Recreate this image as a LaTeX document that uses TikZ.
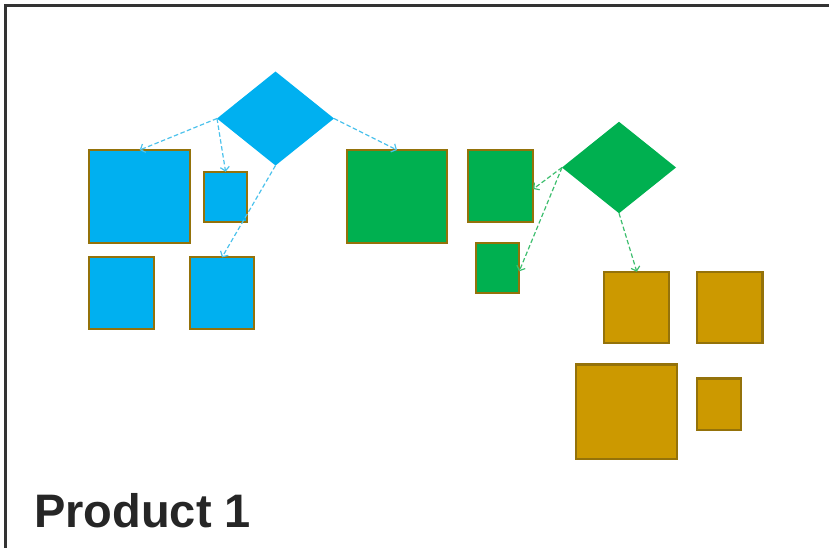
\documentclass[tikz,border=0pt]{standalone}
\usepackage{fontspec}
\setmainfont{Liberation Sans}
\usetikzlibrary{shapes.geometric,arrows.meta}
\definecolor{cblue}{HTML}{00B0F0}
\definecolor{cgreen}{HTML}{00B050}
\definecolor{cgold}{HTML}{CC9900}
\definecolor{cedge}{HTML}{94720A}
\definecolor{ablue}{HTML}{4CC2EC}
\definecolor{agreen}{HTML}{3DBE6E}
\definecolor{ctext}{HTML}{262626}
\definecolor{cframe}{HTML}{333333}
\tikzset{
  sq/.style={rectangle, draw=cedge, line width=2.2pt, inner sep=0pt, outer sep=0pt},
  bsq/.style={sq, fill=cblue},
  gsq/.style={sq, fill=cgreen},
  osq/.style={sq, fill=cgold},
  dia/.style={diamond, inner sep=0pt, outer sep=0pt, draw=none},
  barrow/.style={draw=ablue, line width=1.2pt, dash pattern=on 4.5pt off 2.5pt, -{Straight Barb[length=4pt,width=9pt]}},
  garrow/.style={draw=agreen, line width=1.2pt, dash pattern=on 4.5pt off 2.5pt, -{Straight Barb[length=4pt,width=9pt]}}
}
\begin{document}
\begin{tikzpicture}[x=1pt,y=-1pt]
\useasboundingbox (0,0) rectangle (829,547);
% frame
\draw[cframe, line width=2.5pt] (5.5,560) -- (5.5,5.5) -- (840,5.5);
% blue group
\node[dia, fill=cblue, minimum width=117pt, minimum height=94pt, aspect=1.245] (d1) at (275.5,118.5) {};
\node[bsq, minimum width=101pt, minimum height=93pt] (b1) at (139.7,196.5) {};
\node[bsq, minimum width=43pt, minimum height=50.5pt] (b2) at (225.6,197) {};
\node[bsq, minimum width=65pt, minimum height=72pt] (b3) at (121.7,293.3) {};
\node[bsq, minimum width=64.5pt, minimum height=72pt] (b4) at (222,293.3) {};
% green group
\node[gsq, minimum width=100pt, minimum height=93pt] (g1) at (397,196.5) {};
\node[gsq, minimum width=65pt, minimum height=72pt] (g2) at (500.7,186) {};
\node[gsq, minimum width=43pt, minimum height=50pt] (g3) at (497.7,268.3) {};
\node[dia, fill=cgreen, minimum width=114pt, minimum height=91.5pt, aspect=1.245] (d2) at (619,167.5) {};
% gold group
\node[osq, minimum width=65pt, minimum height=71.5pt] (o1) at (636.8,307.5) {};
\node[osq, minimum width=65.5pt, minimum height=71.5pt] (o2) at (729.8,307.5) {};
\node[osq, minimum width=101pt, minimum height=94.5pt] (o3) at (626.2,411.7) {};
\node[osq, minimum width=44pt, minimum height=51.5pt] (o4) at (719,404.2) {};
% connectors
\draw[barrow] (d1.west) -- (b1.north);
\draw[barrow] (d1.west) -- (b2.north);
\draw[barrow] (d1.south) -- (b4.north);
\draw[barrow] (d1.east) -- (g1.north);
\draw[garrow] (d2.west) -- ([yshift=-3pt]g2.east);
\draw[garrow] (d2.west) -- ([yshift=-3pt]g3.east);
\draw[garrow] (d2.south) -- (o1.north);
% label
\node[anchor=base west, inner sep=0pt, text=ctext, font=\fontsize{47}{56}\selectfont\bfseries] (t) at (34,527) {Product 1};
\end{tikzpicture}
\end{document}
